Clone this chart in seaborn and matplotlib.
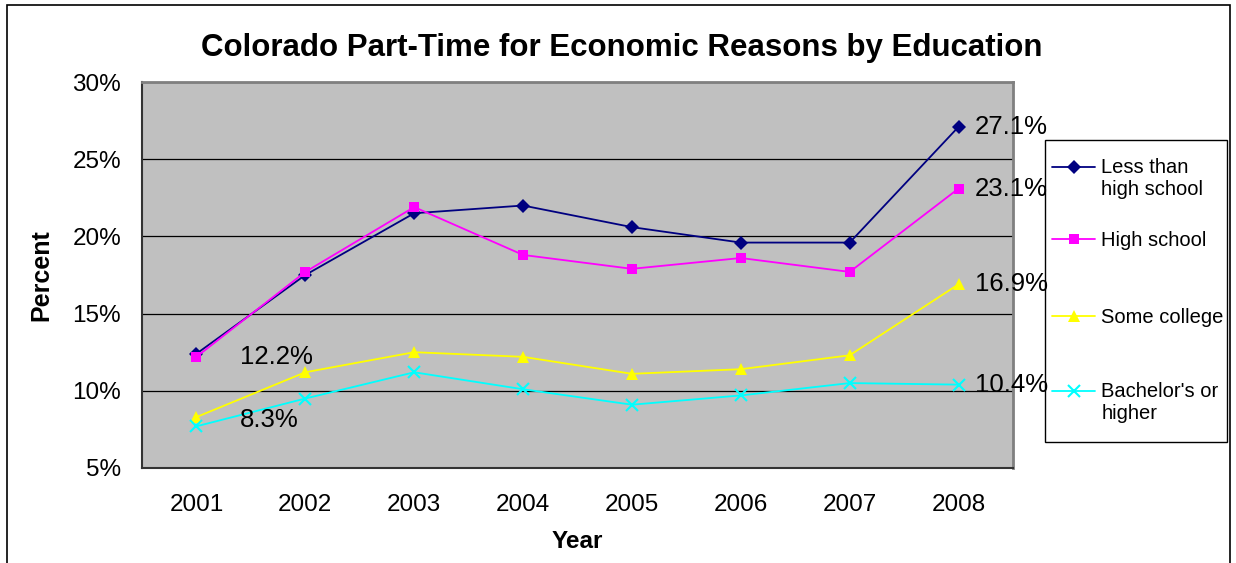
import numpy as np
import pandas as pd
import matplotlib
matplotlib.use('Agg')
import matplotlib.pyplot as plt
import seaborn as sns
from matplotlib.ticker import FixedLocator, FuncFormatter
from matplotlib.patches import Rectangle
from matplotlib.legend_handler import HandlerLine2D

years = [2001, 2002, 2003, 2004, 2005, 2006, 2007, 2008]
less_than_hs = [12.4, 17.5, 21.5, 22.0, 20.6, 19.6, 19.6, 27.1]
high_school = [12.2, 17.7, 21.9, 18.8, 17.9, 18.6, 17.7, 23.1]
some_college = [8.3, 11.2, 12.5, 12.2, 11.1, 11.4, 12.3, 16.9]
bachelors = [7.7, 9.5, 11.2, 10.1, 9.1, 9.7, 10.5, 10.4]

series_names = ["Less than\nhigh school", "High school", "Some college", "Bachelor's or\nhigher"]
series_vals = [less_than_hs, high_school, some_college, bachelors]
colores = ["#000080", "#FF00FF", "#FFFF00", "#00FFFF"]
marcadores = ["D", "s", "^", "x"]
tamanos = [7.5, 7.5, 9, 9]

sns.set_style("white")
plt.rcParams['font.family'] = ['Liberation Sans', 'DejaVu Sans']
plt.rcParams.update({'text.color': 'black', 'axes.labelcolor': 'black',
                     'xtick.color': 'black', 'ytick.color': 'black'})


class HandlerArriba(HandlerLine2D):
    # en etiquetas de dos líneas el marcador va a la altura de la primera línea
    def __init__(self, shift=0, **kw):
        super().__init__(**kw)
        self.shift = shift

    def create_artists(self, legend, orig_handle, xdescent, ydescent, width, height,
                       fontsize, trans):
        artists = super().create_artists(legend, orig_handle, xdescent, ydescent,
                                         width, height, fontsize, trans)
        for a in artists:
            a.set_ydata(np.asarray(a.get_ydata()) + self.shift)
        return artists


fig = plt.figure(figsize=(12.36, 5.63), dpi=100)
ax = fig.add_axes([142 / 1236, 1 - 468 / 563, (1013 - 142) / 1236, (468 - 82) / 563])
ax.set_facecolor("#C0C0C0")

handles = []
for nombre, vals, c, m, t in zip(series_names, series_vals, colores, marcadores, tamanos):
    es_x = (m == 'x')
    sns.lineplot(x=years, y=vals, color=c, marker=m, markersize=t,
                 markeredgewidth=1.5 if es_x else 0, markeredgecolor=c,
                 linewidth=1.3, ax=ax, zorder=3)
    handles.append(ax.lines[-1])

ax.set_xlim(2000.5, 2008.5)
ax.set_ylim(5, 30)
ax.yaxis.set_major_locator(FixedLocator([5, 10, 15, 20, 25, 30]))
ax.yaxis.set_major_formatter(FuncFormatter(lambda v, p: f"{v:.0f}%"))
ax.xaxis.set_major_locator(FixedLocator(years))
ax.xaxis.set_minor_locator(FixedLocator([y + 0.5 for y in [2000] + years]))
ax.tick_params(axis='x', which='major', length=0, pad=19, labelsize=17.5)
ax.tick_params(axis='x', which='minor', length=7, width=1, color='#555555', direction='out')
ax.tick_params(axis='y', length=7, width=1, color='#555555', direction='out', labelsize=17.5, pad=8)
ax.yaxis.grid(True, color='black', linewidth=0.9)
ax.set_axisbelow(True)
for s in ['top', 'right']:
    ax.spines[s].set_color('#808080')
    ax.spines[s].set_linewidth(2)
for s in ['left', 'bottom']:
    ax.spines[s].set_color('#333333')
    ax.spines[s].set_linewidth(1.5)

ax.set_xlabel("Year", fontsize=17.5, fontweight='bold', labelpad=10)
ax.set_ylabel("Percent", fontsize=18, fontweight='bold', labelpad=14)
fig.suptitle("Colorado Part-Time for Economic Reasons by Education",
             x=(200 + 1043) / 2 / 1236, y=0.942, fontsize=22.5, fontweight='bold')

# etiquetas de valor
ax.text(2001.4, high_school[0], f"{high_school[0]:.1f}%", fontsize=18.5, va='center', ha='left')
ax.text(2001.4, some_college[0] - 0.2, f"{some_college[0]:.1f}%", fontsize=18.5, va='center', ha='left')
for vals in series_vals:
    ax.text(2008.15, vals[-1], f"{vals[-1]:.1f}%", fontsize=18.5, va='center', ha='left',
            clip_on=False)

# leyenda: una entrada por serie, a la altura de la referencia, con marco aparte
y_entradas = [166, 239, 316, 390]
for h, n, yc in zip(handles, series_names, y_entradas):
    fig.legend([h], [n], loc='upper left',
               handler_map={h: HandlerArriba(shift=8.3 if '\n' in n else 0)},
               bbox_to_anchor=(1052 / 1236, 1 - (yc - 8) / 563), borderaxespad=0,
               frameon=False, fontsize=14.5, handlelength=2.14, borderpad=0,
               handletextpad=0.3)
fig.patches.append(Rectangle((1045 / 1236, 1 - 442 / 563), (1227 - 1045) / 1236,
                             (442 - 140) / 563, transform=fig.transFigure, fill=False,
                             edgecolor='black', linewidth=1))

fig.patches.append(Rectangle((7 / 1236, -0.1), (1230 - 7) / 1236, 1 - 5 / 563 + 0.1,
                             transform=fig.transFigure, fill=False, edgecolor='black',
                             linewidth=1.2))

fig.savefig("out.png", dpi=100)
plt.close(fig)
